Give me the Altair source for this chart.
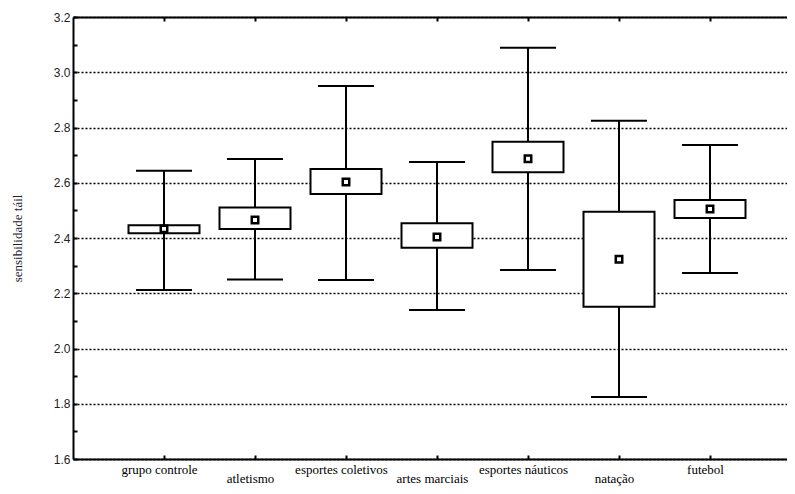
import json
import altair as alt
import pandas as pd

categories = ["grupo controle", "atletismo", "esportes coletivos", "artes marciais",
              "esportes náuticos", "natação", "futebol"]
whisker_low = [2.212, 2.250, 2.248, 2.139, 2.284, 1.824, 2.273]
box_low = [2.417, 2.433, 2.559, 2.365, 2.638, 2.151, 2.472]
mean_vals = [2.433, 2.465, 2.603, 2.404, 2.687, 2.323, 2.505]
box_high = [2.446, 2.510, 2.650, 2.453, 2.748, 2.495, 2.538]
whisker_high = [2.643, 2.686, 2.950, 2.675, 3.089, 2.824, 2.737]

y_major = [1.6, 1.8, 2.0, 2.2, 2.4, 2.6, 2.8, 3.0, 3.2]
y_minor = [1.6, 1.7, 1.8, 1.9, 2.0, 2.1, 2.2, 2.3, 2.4, 2.5, 2.6, 2.7, 2.8,
           2.9, 3.0, 3.1, 3.2]
y_title = "sensibilidade táil"

df = pd.DataFrame({
    "cat": categories,
    "wl": whisker_low,
    "bl": box_low,
    "mean": mean_vals,
    "bh": box_high,
    "wh": whisker_high,
})

# plot width 714: first category 91px from the left frame, 91px step
x_scale = alt.Scale(type="point", domain=categories, padding=0.923, align=0.5417)
y_scale = alt.Scale(domain=[1.6, 3.2], nice=False, zero=False)

cat_list = json.dumps(categories, ensure_ascii=False).replace('"', "'")
label_expr = f"indexof({cat_list}, datum.value) % 2 == 1 ? ['\u00a0', datum.label] : datum.label"

base = alt.Chart(df)

whisk = base.mark_rule(color="black", strokeWidth=2).encode(
    x=alt.X("cat:N", scale=x_scale, sort=categories,
            axis=alt.Axis(orient="bottom", title=None, labelAngle=0, ticks=False,
                          domain=True, domainColor="black", domainWidth=2,
                          labelFont="Liberation Serif", labelFontSize=13,
                          labelColor="black", labelPadding=4, labelOffset=-5,
                          labelExpr=label_expr, labelLineHeight=9.5,
                          labelBaseline="top", labelOverlap=False, grid=False)),
    y=alt.Y("wl:Q", scale=y_scale,
            axis=alt.Axis(orient="left", values=y_major, format=".1f", grid=True,
                          gridDash=[2, 2], gridColor="black", gridWidth=1.4,
                          ticks=False, domain=True, domainColor="black", domainWidth=2,
                          labelFont="Liberation Sans", labelFontSize=12,
                          labelColor="#222222", labelPadding=3,
                          title=y_title, titleFont="Liberation Serif",
                          titleFontSize=13, titleFontWeight="normal",
                          titleColor="#222233", titlePadding=29)),
    y2="wh:Q",
)

boxes = base.mark_bar(size=71, fill="white", stroke="black", strokeWidth=2).encode(
    x=alt.X("cat:N", scale=x_scale, sort=categories,
            axis=alt.Axis(orient="top", title=None, ticks=False, labels=False,
                          domain=True, domainColor="black", domainWidth=2, grid=False)),
    y=alt.Y("bl:Q", scale=y_scale, axis=None),
    y2="bh:Q",
)

cap_low = base.mark_tick(size=56, thickness=2, color="black", opacity=1).encode(
    x=alt.X("cat:N", scale=x_scale, sort=categories,
            axis=alt.Axis(orient="bottom", offset=-4, tickSize=4, tickWidth=2,
                          tickColor="black", labels=False, domain=False,
                          title=None, grid=False)),
    y=alt.Y("wl:Q", scale=y_scale,
            axis=alt.Axis(orient="left", offset=-4, values=y_minor, tickSize=4,
                          tickWidth=2, tickColor="black", labels=False,
                          domain=False, grid=False, title=None)),
)

cap_high = base.mark_tick(size=56, thickness=2, color="black", opacity=1).encode(
    x=alt.X("cat:N", scale=x_scale, sort=categories,
            axis=alt.Axis(orient="top", offset=-4, tickSize=4, tickWidth=2,
                          tickColor="black", labels=False, domain=False,
                          title=None, grid=False)),
    y=alt.Y("wh:Q", scale=y_scale, axis=None),
)

means = base.mark_point(shape="square", filled=True, fill="white", stroke="black",
                        strokeWidth=2.5, size=42, opacity=1).encode(
    x=alt.X("cat:N", scale=x_scale, sort=categories, axis=None),
    y=alt.Y("mean:Q", scale=y_scale, axis=None),
)

chart = alt.layer(whisk, boxes, cap_low, cap_high, means).resolve_axis(
    x="independent", y="independent"
).properties(
    width=714, height=442, autosize="none",
    padding={"left": 65, "top": 9, "right": 0, "bottom": 27},
    background="white",
).configure_view(stroke=None)

chart.save("out.html", embed_options={"renderer": "svg", "actions": False})
